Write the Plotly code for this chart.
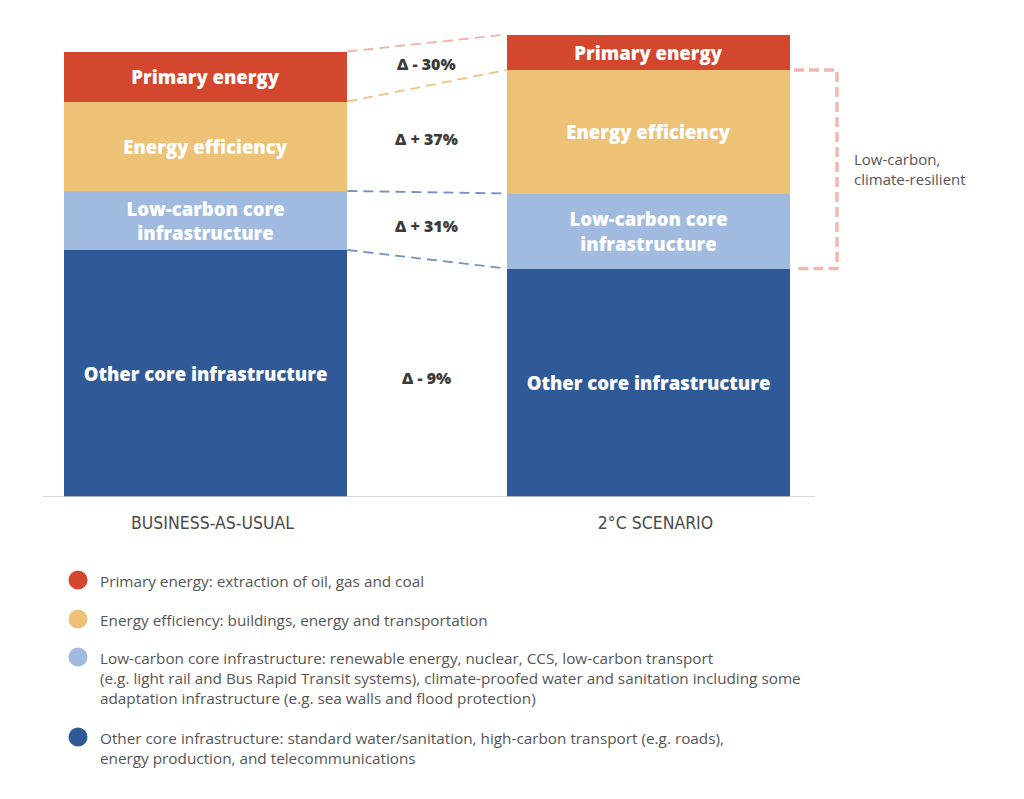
import plotly.graph_objects as go

# %%
scenarios = ["BUSINESS-AS-USUAL", "2°C SCENARIO"]
segments = ["Other core infrastructure", "Low-carbon core<br>infrastructure", "Energy efficiency", "Primary energy"]
other_core = [49.4, 45.7]
low_carbon = [11.8, 15.0]
energy_eff = [17.9, 24.7]
primary = [10.0, 7.1]
deltas = ["Δ - 9%", "Δ + 31%", "Δ + 37%", "Δ - 30%"]
colors = ["#305A97", "#A1BADF", "#EDC277", "#D4472F"]
link_colors = ["#7391C4", "#7391C4", "#F0C27E", "#F2AFA6"]

legend_items = [
    ("Primary energy: extraction of oil, gas and coal", "#D4472F"),
    ("Energy efficiency: buildings, energy and transportation", "#EDC277"),
    ("Low-carbon core infrastructure: renewable energy, nuclear, CCS, low-carbon transport<br>"
     "(e.g. light rail and Bus Rapid Transit systems), climate-proofed water and sanitation including some<br>"
     "adaptation infrastructure (e.g. sea walls and flood protection)", "#A1BADF"),
    ("Other core infrastructure: standard water/sanitation, high-carbon transport (e.g. roads),<br>"
     "energy production, and telecommunications", "#305A97"),
]

# %%
series = [other_core, low_carbon, energy_eff, primary]
bar_w = 0.641
xpos = [0, 1]

fig = go.Figure()
for name, vals, c in zip(segments, series, colors):
    fig.add_trace(go.Bar(
        x=xpos, y=vals, width=bar_w, name=name,
        marker=dict(color=c, line_width=0),
        text=[name, name], textposition="inside", insidetextanchor="middle",
        textangle=0, constraintext="none",
        insidetextfont=dict(color="white", size=18.5, family="Open Sans", weight=800),
        hoverinfo="skip", showlegend=False,
    ))

# cumulative tops for connectors
cum = []
run = [0, 0]
for vals in series:
    run = [run[0] + vals[0], run[1] + vals[1]]
    cum.append(run)

x_l = xpos[0] + bar_w / 2
x_r = xpos[1] - bar_w / 2
for i, top in enumerate(cum):
    fig.add_trace(go.Scatter(
        x=[x_l, x_r], y=top, mode="lines",
        line=dict(color=link_colors[i], width=1.8, dash="10px,6px"),
        hoverinfo="skip", showlegend=False,
    ))

# delta labels between bars
bottoms = [[0, 0]] + cum[:-1]
for i, d in enumerate(deltas):
    ymid = (bottoms[i][0] + cum[i][0] + bottoms[i][1] + cum[i][1]) / 4
    fig.add_annotation(x=0.5, y=ymid, text=d, showarrow=False,
                       font=dict(size=16, color="#3A3A3A", family="Open Sans", weight=800))

# bracket around low-carbon segments of the 2C bar
bx0 = xpos[1] + bar_w / 2 + 0.008
bx1 = bx0 + 0.097
fig.add_trace(go.Scatter(
    x=[bx0, bx1, bx1, bx0], y=[cum[2][1], cum[2][1], cum[0][1], cum[0][1]],
    mode="lines", line=dict(color="#F2B8B0", width=3.5, dash="10px,5px"),
    hoverinfo="skip", showlegend=False,
))
fig.add_annotation(x=bx1 + 0.034, y=(cum[2][1] + cum[0][1]) / 2, xanchor="left",
                   text="Low-carbon,<br>climate-resilient", align="left", showarrow=False,
                   font=dict(size=15, color="#555555", family="Open Sans"))

# baseline
fig.add_shape(type="line", xref="x", yref="y", x0=-0.367, x1=1.376, y0=0, y1=0,
              line=dict(color="#CCCCCC", width=1.5))

# legend (circles + text below the chart)
plot_h = 477
leg_y = [580, 619, 657, 737]
for (txt, c), ly in zip(legend_items, leg_y):
    yp = (497 - ly) / plot_h
    fig.add_shape(type="circle", xref="paper", yref="paper",
                  xsizemode="pixel", ysizemode="pixel",
                  xanchor=(78 - 43) / 837, yanchor=yp,
                  x0=-9.5, x1=9.5, y0=-9.5, y1=9.5,
                  fillcolor=c, line_width=0)
    fig.add_annotation(xref="paper", yref="paper", x=(98 - 43) / 837, y=yp,
                       xanchor="left", yanchor="top", yshift=11, align="left",
                       text=txt, showarrow=False,
                       font=dict(size=15.3, color="#555555", family="Open Sans"))

fig.update_layout(
    width=1016, height=791,
    margin=dict(l=35, r=144, t=12, b=302),
    paper_bgcolor="white", plot_bgcolor="white",
    barmode="stack",
    xaxis=dict(range=[-0.3668, 1.5226], tickvals=xpos, ticktext=scenarios,
               showgrid=False, zeroline=False, showline=False, ticks="",
               ticklabelstandoff=13, ticklabelshift=7,
               tickfont=dict(size=17.5, color="#4A4A4A", family="DejaVu Sans Condensed")),
    yaxis=dict(range=[0, 95.4], visible=False),
)

fig.write_html("out.html")
